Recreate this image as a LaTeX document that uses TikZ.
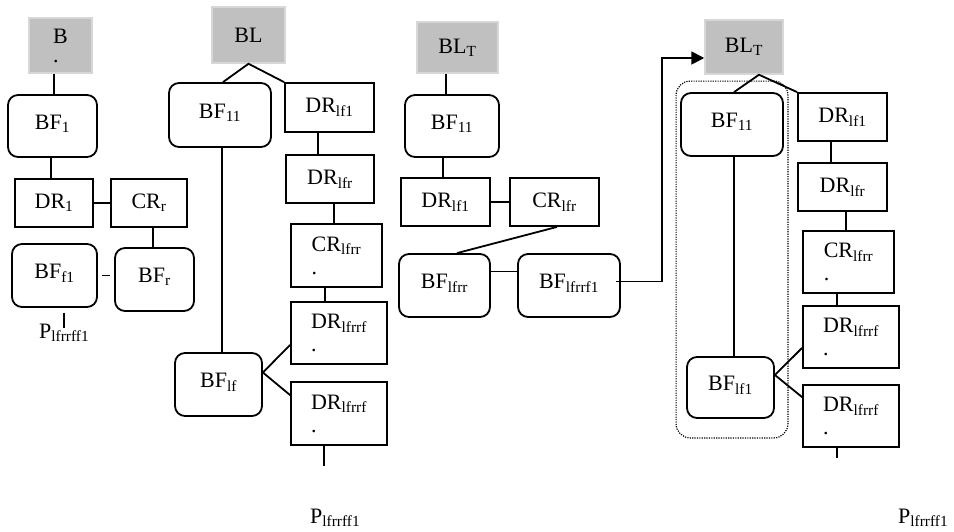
\documentclass[tikz,border=0pt]{standalone}
\usepackage{fontspec}
\setmainfont{Liberation Serif}
\usetikzlibrary{arrows.meta,fit}
\definecolor{boxgray}{RGB}{192,192,192}
\definecolor{edgegray}{RGB}{215,215,215}
\tikzset{
  every node/.style={font=\fontsize{22}{23}\selectfont, inner sep=2pt},
  wh/.style 2 args={minimum width=#1pt, minimum height=#2pt},
  gbox/.style={fill=boxgray, draw=edgegray, line width=1.5pt},
  rbox/.style={draw, line width=1.8pt, rounded corners=10pt, text height=15pt, text depth=9pt},
  sbox/.style={draw, line width=1.8pt, align=left},
  grp/.style={draw, dash pattern=on 1.2pt off 1.2pt, line width=1.2pt, rounded corners=14pt},
  link/.style={line width=1.8pt},
}
\begin{document}
\begin{tikzpicture}[x=1pt,y=-1pt]
\useasboundingbox (0,0) rectangle (954,531);

% first tree
\node[gbox, wh={63}{55}, align=left] (b) at (60.5,45.5) {B\\[-4pt].};
\node[rbox, wh={89}{62}] (bf1) at (52.5,126) {BF\textsubscript{1}};
\node[sbox, wh={78}{48}] (dr1) at (54,203) {DR\textsubscript{1}};
\node[sbox, wh={76}{48}] (crr) at (149,203) {CR\textsubscript{r}};
\node[rbox, wh={85}{63}] (bff1) at (54.5,275.5) {BF\textsubscript{f1}};
\node[rbox, wh={79}{63}] (bfr) at (154.5,279.5) {BF\textsubscript{r}};
\node[anchor=base west, inner sep=0pt] (p1) at (39,338) {P\textsubscript{lfrrff1}};

\draw[link] (b.south -| 54,0) -- (bf1.north -| 54,0);
\draw[link] (bf1.south -| 51,0) -- (dr1.north -| 51,0);
\draw[link] (dr1) -- (crr);
\draw[link] (crr.south -| 153,0) -- (bfr.north -| 153,0);
\draw[link, shorten <=4pt, shorten >=4pt] (bff1.east) -- (bff1.east -| bfr.west);
\draw[link, shorten <=5pt, shorten >=-5pt] (bff1.south -| p1.north) -- (p1.north);

% second tree
\node[gbox, wh={73}{56}] (bl) at (248.5,35) {BL};
\node[rbox, wh={102}{64}] (bf11a) at (220,115) {BF\textsubscript{11}};
\node[sbox, wh={89}{49}] (drlf1a) at (329.5,107.5) {DR\textsubscript{lf1}};
\node[sbox, wh={88}{48}] (drlfra) at (330,179) {DR\textsubscript{lfr}};
\node[sbox, wh={91}{63}] (crlfrra) at (336.5,255.5) {CR\textsubscript{lfrr}\\.};
\node[sbox, wh={96}{62}] (drlfrrfa) at (339,333) {DR\textsubscript{lfrrf}\\.};
\node[rbox, wh={87}{63}] (bflf) at (218.5,384.5) {BF\textsubscript{lf}};
\node[sbox, wh={96}{63}] (drlfrrfb) at (339,413.5) {DR\textsubscript{lfrrf}\\.};
\node[anchor=base west, inner sep=0pt] (p2) at (310,523) {P\textsubscript{lfrrff1}};
\coordinate (e2) at (324,466);

\draw[link] (bf11a.north -| 223,0) -- (bl.south) -- (drlf1a.north west);
\draw[link] (bf11a.south -| 222,0) -- (bflf.north -| 222,0);
\draw[link] (drlf1a.south -| 318,0) -- (drlfra.north -| 318,0);
\draw[link] (drlfra.south -| 334,0) -- (crlfrra.north -| 334,0);
\draw[link] (crlfrra.south -| 325,0) -- (drlfrrfa.north -| 325,0);
\draw[link] ([yshift=20pt]drlfrrfa.south west) -- ([yshift=12pt]bflf.east) -- ([yshift=-14pt]drlfrrfb.north west);
\draw[link] (drlfrrfb.south -| e2) -- (e2);

% third tree
\node[gbox, wh={81}{51}] (blt1) at (457.5,47.5) {BL\textsubscript{T}};
\node[rbox, wh={94}{62}] (bf11b) at (452,126) {BF\textsubscript{11}};
\node[sbox, wh={89}{48}] (drlf1b) at (445.5,202) {DR\textsubscript{lf1}};
\node[sbox, wh={89}{48}] (crlfr) at (554.5,202) {CR\textsubscript{lfr}};
\node[rbox, wh={91}{63}] (bflfrr) at (444.5,285.5) {BF\textsubscript{lfrr}};
\node[rbox, wh={102}{63}] (bflfrrf1) at (569,285.5) {BF\textsubscript{lfrrf1}};

\draw[link] (blt1.south -| 446,0) -- (bf11b.north -| 446,0);
\draw[link] (bf11b.south -| 443,0) -- (drlf1b.north -| 443,0);
\draw[link] (drlf1b) -- (crlfr);
\draw[link] (crlfr.south -| 557,0) -- (bflfrr.north -| 457,0);
\draw[link] ([yshift=14pt]bflfrr.east) -- ([yshift=14pt]bflfrrf1.west);

% fourth tree
\node[gbox, wh={78}{54}] (blt2) at (744,47) {BL\textsubscript{T}};
\node[rbox, wh={102}{63}] (bf11c) at (732,124.5) {BF\textsubscript{11}};
\node[sbox, wh={89}{48}] (drlf1c) at (842.5,117) {DR\textsubscript{lf1}};
\node[sbox, wh={89}{48}] (drlfrc) at (842.5,187) {DR\textsubscript{lfr}};
\node[sbox, wh={91}{62}] (crlfrrc) at (848.5,262) {CR\textsubscript{lfrr}\\.};
\node[sbox, wh={96}{62}] (drlfrrfc) at (851,337) {DR\textsubscript{lfrrf}\\.};
\node[rbox, wh={87}{61}] (bflf1) at (730.5,387.5) {BF\textsubscript{lf1}};
\node[sbox, wh={96}{62}] (drlfrrfd) at (851,416) {DR\textsubscript{lfrrf}\\.};
\node[anchor=base west, inner sep=0pt] (p3) at (898,523) {P\textsubscript{lfrrff1}};
\coordinate (e4) at (837,458);
\node[grp, fit=(bf11c)(bflf1), inner xsep=4pt, inner ysep=15pt, yshift=-4pt] (frame) {};

\draw[link] (bf11c.north -| 734,0) -- (blt2.south -| 759,0) -- (drlf1c.north west);
\draw[link] (drlf1c.south -| 831,0) -- (drlfrc.north -| 831,0);
\draw[link] (drlfrc.south -| 846,0) -- (crlfrrc.north -| 846,0);
\draw[link] (crlfrrc.south -| 837,0) -- (drlfrrfc.north -| 837,0);
\draw[link] (bf11c.south -| 734,0) -- (bflf1.north -| 734,0);
\draw[link] ([yshift=21pt]drlfrrfc.south west) -- ([yshift=12.5pt]bflf1.east) -- ([yshift=-13pt]drlfrrfd.north west);
\draw[link] (drlfrrfd.south -| e4) -- (e4);

% jump to the copy
\draw[link, -{Triangle[length=13pt, width=13pt]}] ([xshift=-5pt, yshift=4pt]bflfrrf1.east) -- ++(46,0) |- ([yshift=-11pt]blt2.west);
\end{tikzpicture}
\end{document}
